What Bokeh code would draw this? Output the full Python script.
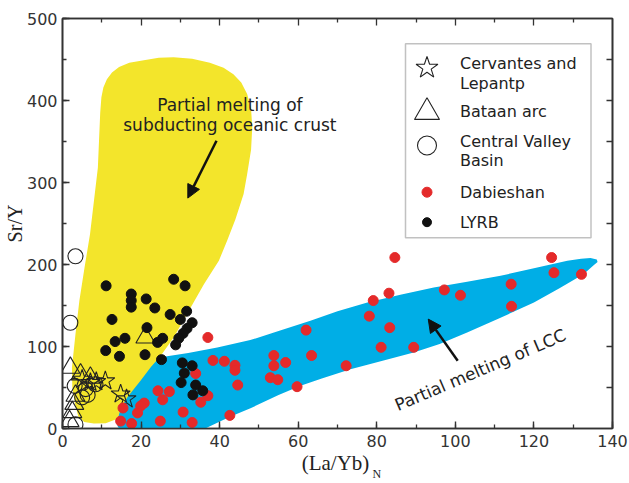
from bokeh.plotting import figure
from bokeh.models import (LinearAxis, SingleIntervalTicker, FixedTicker, Range1d, Label,
                          Arrow, NormalHead, BoxAnnotation)
from bokeh.embed import file_html
from bokeh.resources import INLINE

# ---------------- data ----------------
cervantes_x = [5.0, 7.1, 8.6, 10.9, 14.8, 16.3]
cervantes_y = [60, 56, 57, 58, 42, 36]

bataan_x = [2.0, 4.6, 7.1, 3.3, 3.0, 2.5, 1.8, 21.1]
bataan_y = [74, 66, 62, 40, 30, 20, 9, 111]

cvb_x = [3.3, 2.0, 3.1, 5.9, 6.4, 8.4, 5.0, 3.3]
cvb_y = [210, 129, 52, 48, 41, 54, 38, 5]

dabie_x = [37.0, 38.3, 41.2, 43.9, 43.9, 44.6, 42.6, 53.8, 53.8, 56.8, 52.9, 54.8, 59.7,
           33.9, 37.0, 35.2, 24.3, 25.5, 27.2, 15.4, 20.8, 19.9, 19.1, 14.8, 17.6, 24.9,
           30.7, 33.0, 62.0, 63.4, 72.2, 78.1, 79.1, 83.1, 84.6, 83.3, 81.1, 89.4, 97.2,
           101.3, 114.2, 114.3, 124.5, 125.1, 132.1]
dabie_y = [111, 83, 82, 77, 71, 53, 16, 89, 76.5, 80.5, 62, 59.5, 51,
           67, 40, 32, 46, 35, 45, 25, 31, 27.5, 19, 9, 6, 9,
           20, 7.3, 120, 89, 76.5, 137, 156, 165, 208.5, 123, 99, 99, 169,
           162.5, 176, 149, 208.5, 190, 188]

lyrb_x = [11.1, 17.5, 17.5, 17.5, 21.3, 23.5, 28.3, 31.2, 27.4, 31.6, 12.6, 21.5, 30.0,
          33.0, 31.7, 30.7, 29.6, 28.8, 13.4, 15.9, 11.0, 14.5, 21.0, 24.2, 25.5, 25.2,
          30.5, 33.0, 31.0, 30.2, 33.9, 35.7, 33.2]
lyrb_y = [174, 164, 156, 148, 158, 147, 182, 174, 139, 143, 133, 123, 133,
          129, 122, 116, 110, 102, 106, 110, 95, 88, 90, 105, 110, 84,
          80, 76.5, 67.5, 56, 53, 46, 41]

# field outlines
slab_x = [20.7, 24.5, 28.3, 33.0, 37.5, 41.0, 43.5, 45.5, 47.0, 48.0, 48.3, 48.0, 47.0,
          46.1, 44.0, 41.9, 39.8, 36.0, 33.5, 31.7, 28.3, 24.1, 21.0, 18.5, 16.0, 13.5,
          11.0, 8.0, 5.5, 4.0, 3.2, 2.5, 2.4, 3.3, 4.3, 5.6, 7.0, 9.0, 9.6, 9.9, 10.4,
          11.3, 12.6, 14.4, 17.0]
slab_y = [449, 452, 452.6, 451, 446, 440, 432, 422, 408, 390, 367, 340, 310,
          286, 255, 229, 204.5, 176, 155, 139.5, 111, 82.6, 62, 44, 25, 11,
          6.5, 6, 8, 15, 30, 50, 74, 115, 156, 196, 237, 318, 385, 404, 416,
          426, 434, 441, 446]

lcc_x = [14.8, 14.0, 14.2, 14.8, 16.5, 19.8, 22.5, 24.2, 25.8, 32.0, 39.4, 47.8, 55.0,
         63.1, 70.0, 77.6, 86.0, 94.5, 103.0, 111.5, 120.0, 128.5, 132.0, 134.4, 136.0,
         136.2, 135.2, 132.7, 126.5, 120.0, 111.5, 103.0, 96.0, 89.4, 81.0, 73.3, 66.0,
         60.6, 55.0, 48.0, 42.5, 39.0, 35.0]
lcc_y = [-3, 3, 14, 24, 38, 58, 75, 84, 87.4, 92, 98.8, 107.8, 119,
         131.3, 143, 153.7, 163, 172, 179, 186.2, 195.5, 204.5, 207, 207.8, 206,
         203, 199, 188.3, 171, 153.7, 135, 117.1, 103, 92.7, 82, 72.4, 61,
         52.1, 41, 25, 14, 6, -3]

legend_lines = [["Cervantes and", "Lepantp"], ["Bataan arc"], ["Central Valley", "Basin"],
                ["Dabieshan"], ["LYRB"]]
x_title, x_title_sub = "(La/Yb)", "N"
y_title = "Sr/Y"

SANS = "DejaVu Sans"
SERIF = "Liberation Serif"
AX = "#333333"
INK = "#222222"

# frame geometry (pixels)
FL, FR, FT, FB = 62, 612, 18, 428
X0, X1, Y0, Y1 = 0, 140, 0, 500


def px2x(px):
    return X0 + (px - FL) / (FR - FL) * (X1 - X0)


def py2y(py):
    return Y0 + (FB - py) / (FB - FT) * (Y1 - Y0)


p = figure(width=629, height=483, x_range=Range1d(X0, X1), y_range=Range1d(Y0, Y1),
           output_backend="svg", toolbar_location=None,
           min_border_left=FL, min_border_right=629 - FR, min_border_top=FT,
           min_border_bottom=483 - FB,
           background_fill_color="white", border_fill_color="white")
p.xgrid.visible = False
p.ygrid.visible = False
p.outline_line_color = AX
p.outline_line_width = 1.6

# fields
p.patch(slab_x, slab_y, fill_color="#F3E52B", line_color=None)
p.patch(lcc_x, lcc_y, fill_color="#00AEE6", line_color=None)

# points
p.scatter(cvb_x, cvb_y, marker="circle", size=15, fill_color=None, line_color=INK,
          line_width=1.1)
p.scatter(bataan_x, bataan_y, marker="triangle", size=19, fill_color=None, line_color=INK,
          line_width=1.1)
p.scatter(cervantes_x, cervantes_y, marker="star", size=20, fill_color=None, line_color=INK,
          line_width=1.1)
p.scatter(dabie_x, dabie_y, marker="circle", size=10, fill_color="#E42A2A",
          line_color="#E42A2A")
p.scatter(lyrb_x, lyrb_y, marker="circle", size=10, fill_color="#111111",
          line_color="#111111")


# axes
def base_axis(ax):
    ax.axis_line_color = AX
    ax.axis_line_width = 1.6
    ax.major_tick_line_color = AX
    ax.minor_tick_line_color = AX
    ax.major_tick_line_width = 1.4
    ax.minor_tick_line_width = 1.3
    ax.major_tick_out = 0
    ax.minor_tick_out = 0


for ax, step in [(p.xaxis[0], 20), (p.yaxis[0], 100)]:
    base_axis(ax)
    ax.ticker = SingleIntervalTicker(interval=step, num_minor_ticks=2)
    ax.major_tick_in = 7
    ax.minor_tick_in = 4
    ax.major_label_text_font = SANS
    ax.major_label_text_font_size = "16px"
    ax.major_label_text_color = AX

p.xaxis.major_label_standoff = 6
p.yaxis.major_label_standoff = 5
p.yaxis.axis_label = y_title
p.yaxis.axis_label_text_font = SERIF
p.yaxis.axis_label_text_font_size = "20px"
p.yaxis.axis_label_text_font_style = "normal"
p.yaxis.axis_label_text_color = INK
p.yaxis.axis_label_standoff = -2


# x title drawn as label-only axes stacked under the x axis (title + subscript)
def title_axis(pos, text, size, standoff):
    ax = LinearAxis(ticker=FixedTicker(ticks=[pos], minor_ticks=[]),
                    major_label_overrides={pos: text})
    ax.axis_line_color = None
    ax.major_tick_line_color = None
    ax.minor_tick_line_color = None
    ax.major_tick_in = 0
    ax.major_tick_out = 0
    ax.major_label_text_font = SERIF
    ax.major_label_text_font_size = size
    ax.major_label_text_color = INK
    ax.major_label_standoff = standoff
    return ax


p.add_layout(title_axis(69.5, x_title, "21px", 1), "below")
p.add_layout(title_axis(80.0, x_title_sub, "12px", -11), "below")

# top: long ticks every 20, short ticks in between (label-free axes)
top_long = LinearAxis(ticker=FixedTicker(ticks=[], minor_ticks=list(range(20, 140, 20))))
base_axis(top_long)
top_long.minor_tick_in = 7
p.add_layout(top_long, "above")
top_short = LinearAxis(ticker=FixedTicker(ticks=[], minor_ticks=list(range(10, 140, 20))))
base_axis(top_short)
top_short.axis_line_color = None
top_short.minor_tick_in = 4
p.add_layout(top_short, "above")

right = LinearAxis(ticker=FixedTicker(ticks=[], minor_ticks=list(range(50, 500, 50))))
base_axis(right)
right.minor_tick_in = 6
p.add_layout(right, "right")

# annotations
for txt, yy in [("Partial melting of", 394.4), ("subducting oceanic crust", 370.4)]:
    p.add_layout(Label(x=42.6, y=yy, text=txt, text_font=SANS, text_font_size="17px",
                       text_color=INK, text_align="center", text_baseline="alphabetic"))
p.add_layout(Label(x=84.8, y=27.7, text="Partial melting of LCC", angle=23, angle_units="deg",
                   text_font=SANS, text_font_size="17px", text_color=INK,
                   text_baseline="alphabetic"))

p.add_layout(Arrow(end=NormalHead(size=13, fill_color="#111111", line_color="#111111"),
                   x_start=39.2, y_start=350.9, x_end=31.9, y_end=281,
                   line_width=2.5, line_color="#111111"))
p.add_layout(Arrow(end=NormalHead(size=13, fill_color="#111111", line_color="#111111"),
                   x_start=100.6, y_start=82.6, x_end=93.1, y_end=133.4,
                   line_width=2.5, line_color="#111111"))

# legend (box, symbols, labels)
p.add_layout(BoxAnnotation(left=px2x(405), right=px2x(590.5), top=py2y(43.3),
                           bottom=py2y(237.3), fill_color="white", fill_alpha=1,
                           line_color=AX, line_width=1.5, level="underlay"))
sym_px = 426.5
text_px = 459.5
sym_py = [67.3, 111.7, 145.0, 191.7, 221.7]
line_py = [[62.7, 82.7], [111.0], [140.7, 160.0], [191.7], [221.7]]
sym_style = [dict(marker="star", size=23, fill_color=None, line_color=INK, line_width=1.1),
             dict(marker="triangle", size=25, fill_color=None, line_color=INK, line_width=1.1),
             dict(marker="circle", size=19, fill_color=None, line_color=INK, line_width=1.1),
             dict(marker="circle", size=10, fill_color="#E42A2A", line_color="#E42A2A"),
             dict(marker="circle", size=9, fill_color="#111111", line_color="#111111")]
for lines, lys, sy, st in zip(legend_lines, line_py, sym_py, sym_style):
    p.scatter([px2x(sym_px)], [py2y(sy)], **st)
    for t, ly in zip(lines, lys):
        p.add_layout(Label(x=px2x(text_px), y=py2y(ly), text=t, text_font=SANS,
                           text_font_size="16px", text_color=INK, text_baseline="middle"))

open("out.html", "w").write(file_html(p, INLINE))
